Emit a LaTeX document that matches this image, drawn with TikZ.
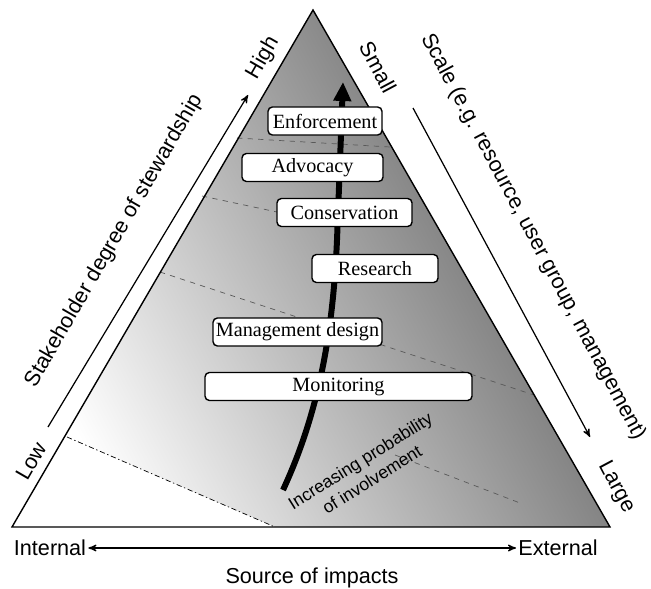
\documentclass[tikz,border=0pt]{standalone}
\usepackage{fontspec}
\setmainfont{Liberation Serif}
\setsansfont{Liberation Sans}
\usetikzlibrary{arrows, arrows.meta, positioning}

\begin{document}
\begin{tikzpicture}[>=stealth', on grid, semithick]
      \tikzstyle{stage}=[draw=black, fill=white, rounded corners=2.5pt, thick, minimum height=0.56cm, inner sep=1pt, font=\fontsize{11.5}{13}\selectfont]
      \tikzstyle{axislabel}=[font=\sffamily\fontsize{12.3}{14}\selectfont, inner sep=1pt]
      \tikzstyle{band}=[dashed, black!65, thin]
      \useasboundingbox (0,0) rectangle (13.02,-11.78);
      % pyramid
      \coordinate (T) at (6.26,-0.20);
      \coordinate (L) at (0.24,-10.54);
      \coordinate (R) at (12.20,-10.54);
      \shade[top color=black!64, middle color=black!38, bottom color=white, shading angle=-62] (T) -- (L) -- (R) -- cycle;
      \coordinate (dd-left) at (1.34,-8.74);
      \coordinate (dd-bottom) at (5.50,-10.54);
      \fill[white] (dd-left) -- (L) -- (dd-bottom) -- cycle;
      \draw[thin, dash pattern=on 3pt off 1.5pt on 0.8pt off 1.5pt] (dd-left) -- (dd-bottom);
      \draw[band] (4.74,-2.76) -- (7.80,-2.94);
      \draw[band] (4.04,-3.92) -- (5.54,-4.24);
      \draw[band] (3.20,-5.44) -- (10.68,-7.90);
      \draw[band] (7.90,-9.10) -- (10.40,-10.06);
      \draw[thick] (T) -- (L) -- (R) -- cycle;
      % involvement arrow
      \coordinate (inv-start) at (5.66,-9.80);
      \coordinate (inv-end) at (6.86,-1.64);
      \draw[line width=3.4pt, -{Triangle[length=0.38cm, width=0.34cm]}] (inv-start) .. controls (6.40,-8.20) and (6.66,-6.60) .. (6.74,-4.80) -- (inv-end);
      % stages
      \node[stage, minimum width=2.28cm] (enf) at (6.50,-2.42) {Enforcement};
      \node[stage, minimum width=2.82cm] (adv) [below left=0.93cm and 0.25cm of enf] {Advocacy};
      \node[stage, minimum width=2.70cm] (cons) [below right=0.90cm and 0.64cm of adv] {Conservation};
      \node[stage, minimum width=2.52cm] (res) [below right=1.12cm and 0.61cm of cons] {Research};
      \node[stage, minimum width=3.38cm] (mgmt) [below left=1.27cm and 1.55cm of res] {Management design};
      \node[stage, minimum width=5.34cm] (mon) [below right=1.09cm and 0.82cm of mgmt] {Monitoring};
      \node[font=\sffamily\fontsize{10}{12.5}\selectfont, rotate=32, align=center, inner sep=1pt] (prob) at (7.32,-9.40) {Increasing probability\\of involvement};
      % axes
      \coordinate (sl-low) at (0.96,-8.54);
      \coordinate (sl-high) at (4.96,-1.90);
      \path (sl-low) edge[->, line width=0.7pt] (sl-high);
      \coordinate (sc-small) at (8.26,-2.16);
      \coordinate (sc-large) at (11.80,-8.74);
      \path (sc-small) edge[->, line width=0.7pt] (sc-large);
      \node[axislabel, rotate=60] (high) at (5.26,-1.16) {High};
      \node[axislabel, rotate=60] (low) at (0.62,-9.22) {Low};
      \node[axislabel, rotate=-62] (small) at (7.56,-1.34) {Small};
      \node[axislabel, rotate=-62] (large) at (12.32,-9.74) {Large};
      \node[axislabel, rotate=60] (steward) at (2.28,-4.82) {Stakeholder degree of stewardship};
      \node[axislabel, rotate=-62] (scale) at (10.66,-4.74) {Scale (e.g. resource, user group, management)};
      \node[axislabel] (int) at (1.00,-10.96) {Internal};
      \node[axislabel] (ext) at (11.16,-10.96) {External};
      \path (int) edge[<->, line width=0.7pt] (ext);
      \node[axislabel] (src) at (6.24,-11.56) {Source of impacts};
\end{tikzpicture}
\end{document}
